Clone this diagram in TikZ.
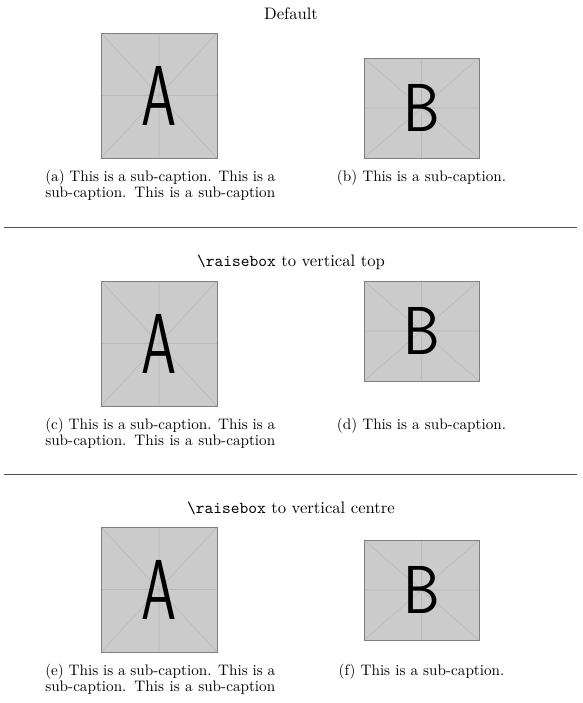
\documentclass[tikz,border=0pt]{standalone}
\usepackage{fontspec}
\usepackage{graphicx}
\definecolor{phfill}{HTML}{CBCBCB}
\definecolor{phedge}{HTML}{7F7F7F}
\definecolor{phgrid}{HTML}{B8B8B8}
\definecolor{rulecol}{HTML}{505050}
\tikzset{
  phborder/.style={draw=phedge, line width=0.6pt},
  phline/.style={draw=phgrid, line width=0.35pt},
  sepline/.style={draw=rulecol, line width=0.55pt},
  heading/.style={anchor=base, inner sep=0pt, font=\fontsize{10.95}{13.6}\selectfont},
  capline/.style={anchor=base west, inner sep=0pt, font=\fontsize{10}{12}\selectfont},
  capcentre/.style={anchor=base, inner sep=0pt, font=\fontsize{10}{12}\selectfont},
}
\newcommand\phimg[6]{%
  \fill[phfill] (#1,#2) rectangle (#3,#4);
  \draw[phline] (#1,#2) -- (#3,#4) (#1,#4) -- (#3,#2)
     ({(#1+#3)/2},#2) -- ({(#1+#3)/2},#4) (#1,{(#2+#4)/2}) -- (#3,{(#2+#4)/2});
  \draw[phborder] (#1,#2) rectangle (#3,#4);
  \node[inner sep=0pt] (#6) at ({(#1+#3)/2},{(#2+#4)/2}) {#5};
}
\newcommand\letterA{\scalebox{0.66}[1]{\fontsize{56}{56}\selectfont\sffamily A}}
\newcommand\letterB{\scalebox{0.86}[1]{\fontsize{44.6}{44.6}\selectfont\sffamily B}}
\newcommand\capwide[1]{\hbox to 151.3pt{#1}}
\begin{document}
\begin{tikzpicture}[x=0.658pt, y=-0.658pt]
\useasboundingbox (0,0) rectangle (583,703);
% ---------- row 1 ----------
\node[heading] (h1) at (291,19) {Default};
\phimg{101}{33}{217}{158}{\letterA}{la1}
\phimg{364}{58}{479}{158}{\letterB}{lb1}
\node[capline] (ca1) at (45,181.5) {\capwide{(a) This is a sub-caption. This is a}};
\node[capline] (ca2) at (45,197.5) {\capwide{sub-caption. This is a sub-caption}};
\node[capcentre] (cb1) at (421.5,181.5) {(b) This is a sub-caption.};
\coordinate (r1l) at (4,227);
\coordinate (r1r) at (577,227);
\draw[sepline] (r1l) -- (r1r);
% ---------- row 2 ----------
\node[heading] (h2) at (291,266) {\texttt{\textbackslash raisebox} to vertical top};
\phimg{101}{281}{217}{406}{\letterA}{la2}
\phimg{364}{281}{479}{381}{\letterB}{lb2}
\node[capline] (cc1) at (45,429.5) {\capwide{(c) This is a sub-caption. This is a}};
\node[capline] (cc2) at (45,445.5) {\capwide{sub-caption. This is a sub-caption}};
\node[capcentre] (cd1) at (421.5,429.5) {(d) This is a sub-caption.};
\coordinate (r2l) at (4,474);
\coordinate (r2r) at (577,474);
\draw[sepline] (r2l) -- (r2r);
% ---------- row 3 ----------
\node[heading] (h3) at (291,513) {\texttt{\textbackslash raisebox} to vertical centre};
\phimg{101}{527}{217}{652}{\letterA}{la3}
\phimg{364}{540}{479}{640}{\letterB}{lb3}
\node[capline] (ce1) at (45,675.5) {\capwide{(e) This is a sub-caption. This is a}};
\node[capline] (ce2) at (45,691.5) {\capwide{sub-caption. This is a sub-caption}};
\node[capcentre] (cf1) at (421.5,675.5) {(f) This is a sub-caption.};
\end{tikzpicture}
\end{document}
